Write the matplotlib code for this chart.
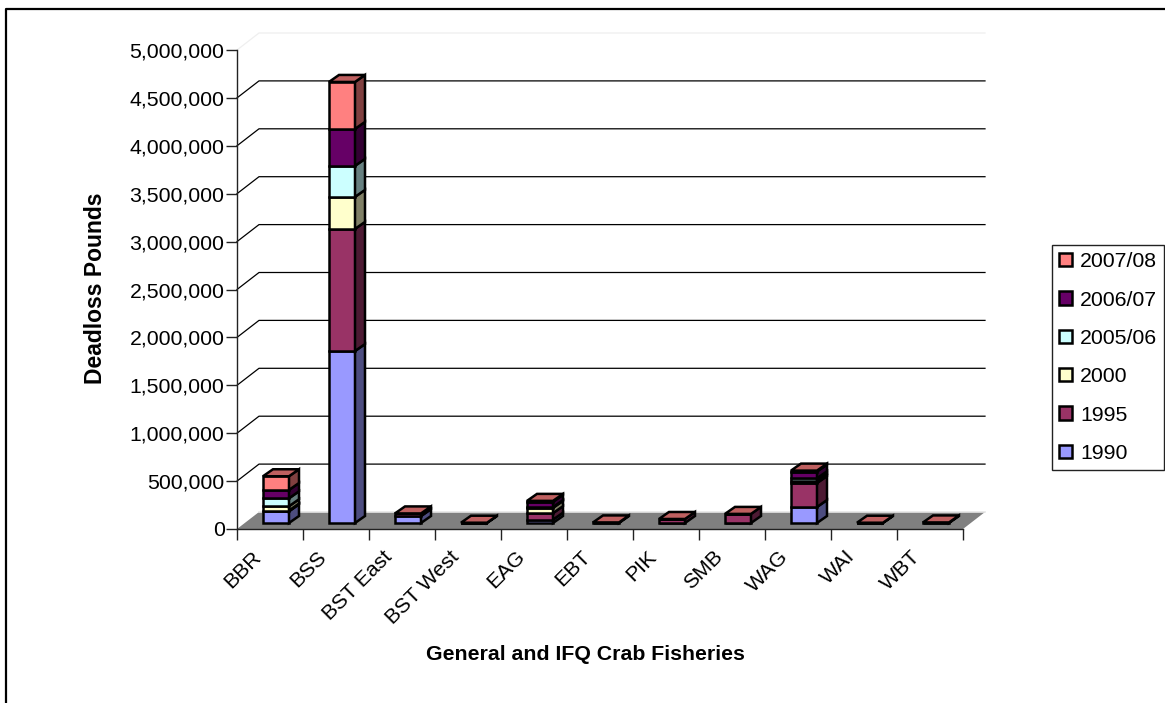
import matplotlib
matplotlib.use("Agg")
import matplotlib.pyplot as plt
from matplotlib.colors import to_rgb
from matplotlib.lines import Line2D
from matplotlib.patches import Polygon
from matplotlib.ticker import FuncFormatter
from matplotlib.transforms import ScaledTranslation

plt.rcParams["font.family"] = ["Liberation Sans", "DejaVu Sans"]

fisheries = ["BBR", "BSS", "BST East", "BST West", "EAG", "EBT", "PIK", "SMB", "WAG", "WAI", "WBT"]
seasons = ["1990", "1995", "2000", "2005/06", "2006/07", "2007/08"]
colors = ["#9999FF", "#993366", "#FFFFCC", "#CCFFFF", "#660066", "#FF8080"]

deadloss_1990 = [122000, 1795000, 72000, 0, 35000, 0, 0, 0, 167000, 0, 0]
deadloss_1995 = [8000, 1275000, 28000, 3000, 68000, 6000, 42000, 95000, 250000, 3000, 6000]
deadloss_2000 = [45000, 334000, 0, 0, 55000, 0, 0, 0, 20000, 0, 0]
deadloss_2005 = [83000, 324000, 0, 0, 8000, 0, 0, 0, 30000, 0, 0]
deadloss_2006 = [87000, 386000, 0, 0, 55000, 0, 0, 0, 70000, 0, 0]
deadloss_2007 = [143000, 490000, 0, 0, 10000, 0, 0, 0, 10000, 0, 0]
series = [deadloss_1990, deadloss_1995, deadloss_2000, deadloss_2005, deadloss_2006, deadloss_2007]

W, H = 1165, 703
FONT = 15.3
fig = plt.figure(figsize=(W / 100, H / 100), dpi=100, facecolor="white")

# Plot box in pixels: the front edge of the floor and the height of the value axis
left, right, top, bottom = 237, 963, 50, 529
ax = fig.add_axes([left / W, 1 - bottom / H, (right - left) / W, (bottom - top) / H])
ax.set_xlim(0, 11)
ax.set_ylim(0, 5000000)
ax.patch.set_visible(False)

# Oblique projection: depth of the box and of the bars, in data units
wall_dx, wall_dy = 22 / 66, 17 * 500000 / 47.9
bar_dx, bar_dy = 10 / 66, 7 * 500000 / 47.9
bar_x0, bar_w = 26 / 66, 26 / 66
bar_base = 6 * 500000 / 47.9
edge = dict(edgecolor="black", linewidth=1.8, joinstyle="miter", clip_on=False)


def shade(color, factor):
    return tuple(c * factor for c in to_rgb(color))


# Floor and back wall
ax.add_patch(Polygon([(0, 0), (11, 0), (11 + wall_dx, wall_dy), (wall_dx, wall_dy)],
                     facecolor="#808080", edgecolor="none", clip_on=False, zorder=1))
ax.add_line(Line2D([wall_dx, 11 + wall_dx], [wall_dy, wall_dy], color="#E6E6E6", lw=1.2,
                   clip_on=False, zorder=1.1))
for v in range(500000, 5000001, 500000):
    c = "#EFEFEF" if v == 5000000 else "black"
    ax.add_line(Line2D([0, wall_dx, 11 + wall_dx], [v, v + wall_dy, v + wall_dy], color=c, lw=0.9,
                       clip_on=False, zorder=1.2))

# Stacked boxes: front face through bar(), side and top through polygons
stack = [bar_base] * len(fisheries)
handles = []
last = len(series) - 1
for k, (label, color, values) in enumerate(zip(seasons, colors, series)):
    xs = [i + bar_x0 for i in range(len(fisheries))]
    bars = ax.bar(xs, values, bar_w, bottom=stack, align="edge", color=color, label=label,
                  zorder=3 + k, **edge)
    handles.append(bars)
    for x, h, y0 in zip(xs, values, stack):
        x1, y1 = x + bar_w, y0 + h
        if h > 0:
            ax.add_patch(Polygon([(x1, y0), (x1 + bar_dx, y0 + bar_dy),
                                  (x1 + bar_dx, y1 + bar_dy), (x1, y1)],
                                 facecolor=shade(color, 0.5), zorder=3 + k, **edge))
        # The closing series caps every stack, even where its own value is nil
        if k == last:
            ax.add_patch(Polygon([(x, y1), (x1, y1), (x1 + bar_dx, y1 + bar_dy), (x + bar_dx, y1 + bar_dy)],
                                 facecolor=shade(color, 0.75), zorder=3 + k, **edge))
    stack = [s + v for s, v in zip(stack, values)]

# Axes
for side in ("top", "right"):
    ax.spines[side].set_visible(False)
for side in ("left", "bottom"):
    ax.spines[side].set_linewidth(1.0)
    ax.spines[side].set_color("#222222")
    ax.spines[side].set_zorder(2)

ax.set_yticks(range(0, 5000001, 500000))
ax.yaxis.set_major_formatter(FuncFormatter(lambda v, _: f"{int(v):,}"))
ax.tick_params(axis="y", length=8, width=1.0, labelsize=FONT, pad=1, color="#222222")
ax.set_xticks(range(12), fisheries + [""])
ax.tick_params(axis="x", length=8, width=1.0, labelsize=FONT, pad=0, color="#222222")
shift = ScaledTranslation(14 / 100, -7 / 100, fig.dpi_scale_trans)
for tick_label in ax.get_xticklabels():
    tick_label.set_rotation(45)
    tick_label.set_ha("right")
    tick_label.set_va("top")
    tick_label.set_rotation_mode("anchor")
    tick_label.set_transform(tick_label.get_transform() + shift)

ax.set_ylabel("Deadloss Pounds", fontsize=16.5, fontweight="bold")
ax.yaxis.set_label_coords((96 - left) / (right - left), (bottom - 288) / (bottom - top))
ax.set_xlabel("General and IFQ Crab Fisheries", fontsize=FONT, fontweight="bold")
ax.xaxis.set_label_coords((585 - left) / (right - left), (bottom - 655) / (bottom - top))
ax.xaxis.label.set_va("center")
ax.yaxis.label.set_va("center")

# Legend lists the newest season first
legend = fig.legend(handles[::-1], seasons[::-1], loc="upper left",
                    bbox_to_anchor=(1052 / W, 1 - 245 / H), borderaxespad=0,
                    fontsize=FONT, frameon=True, fancybox=False, framealpha=1,
                    edgecolor="#222222", handlelength=0.6, handleheight=0.6,
                    handletextpad=0.38, labelspacing=0.91, borderpad=0.34)
legend.get_frame().set_linewidth(1.0)

# Chart frame
fig.add_artist(Line2D([6 / W, 6 / W, 1], [0, 1 - 9 / H, 1 - 9 / H], color="black", lw=1.6,
                      transform=fig.transFigure))

fig.savefig("out.png", dpi=100)
